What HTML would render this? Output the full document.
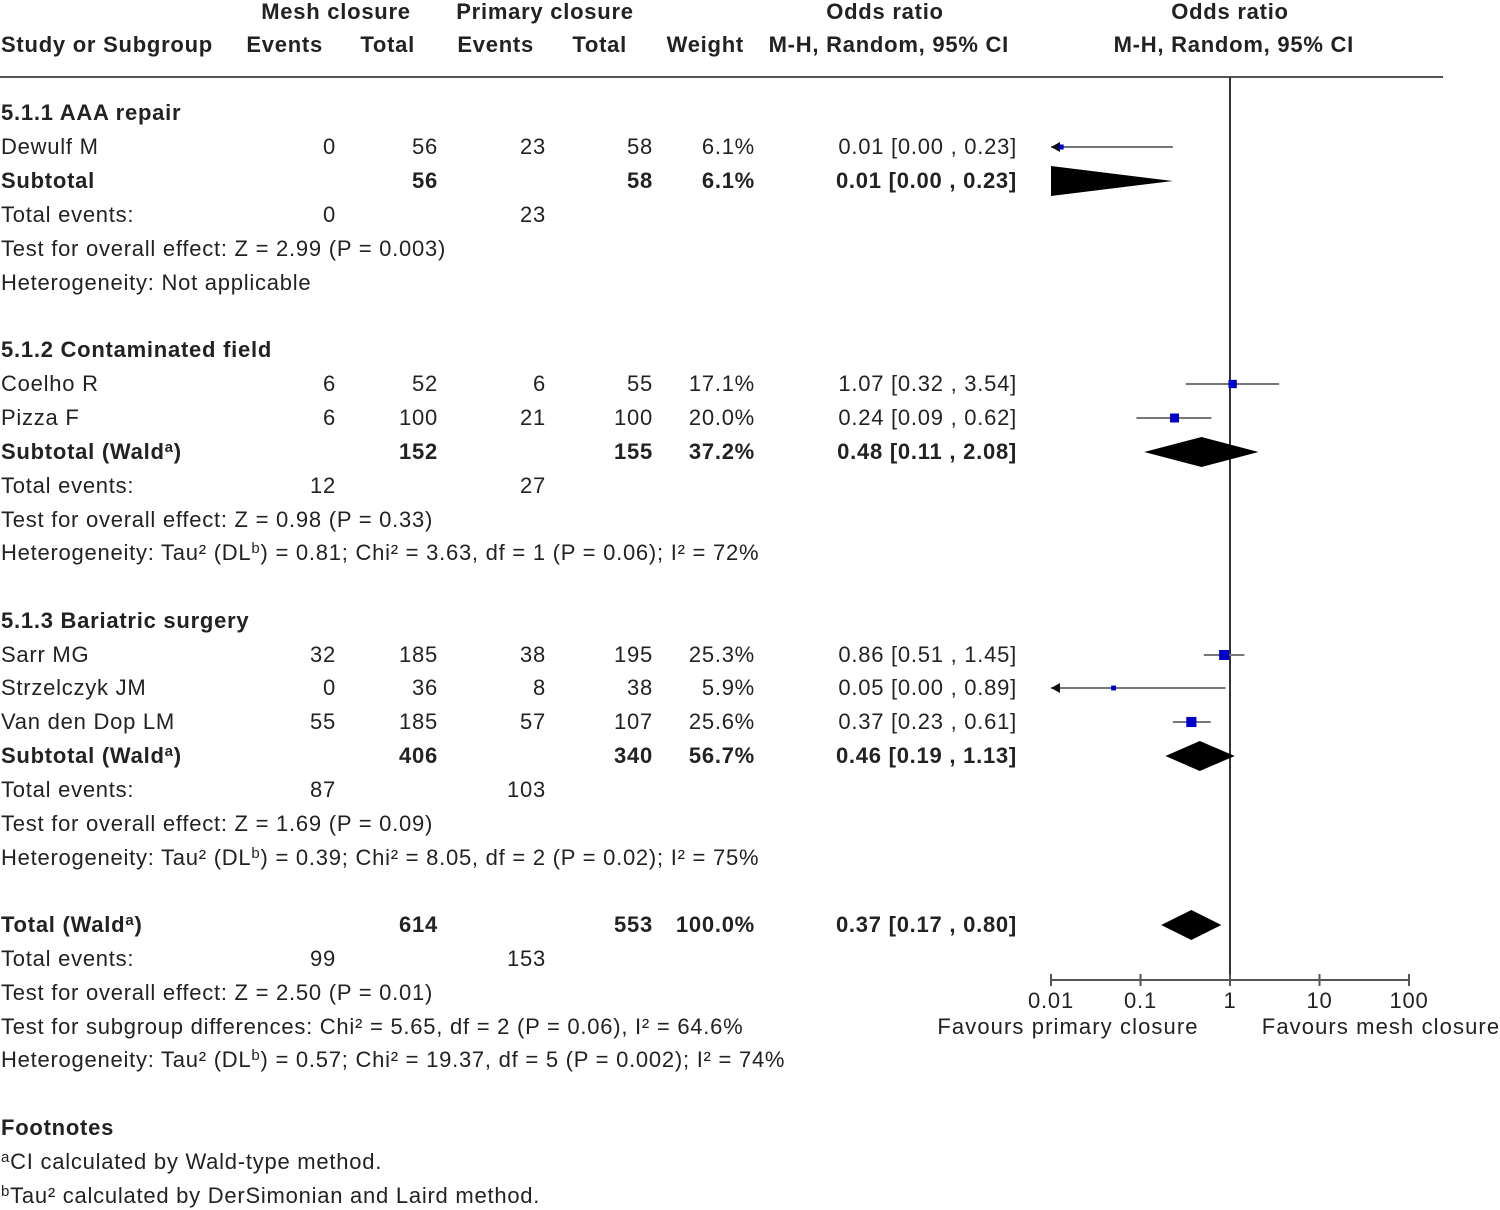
<!DOCTYPE html>
<html><head><meta charset="utf-8"><style>
body{margin:0;width:1500px;height:1210px;background:#fff;position:relative;overflow:hidden;font-family:"Liberation Sans",sans-serif;color:#222}
.t{position:absolute;font-size:22px;letter-spacing:0.75px;line-height:26px;white-space:nowrap}
.t sup{font-size:15px;vertical-align:0;position:relative;top:-7px;line-height:0}
.b{font-weight:bold}
svg{position:absolute;left:0;top:0}
</style></head><body>
<svg id="plot" width="1500" height="1210"></svg>
<script>
// data
const studyNames=["Dewulf M","Coelho R","Pizza F","Sarr MG","Strzelczyk JM","Van den Dop LM"];
const studyOR=[0.013,1.07,0.24,0.86,0.05,0.37];
const studyLo=[0.0,0.32,0.09,0.51,0.0,0.23];
const studyHi=[0.23,3.54,0.62,1.45,0.89,0.61];
const studyWeight=[6.1,17.1,20.0,25.3,5.9,25.6];
const studyRowY=[147,384,418,655,688,722];
const diamondNames=["subtotal-aaa","subtotal-contaminated","subtotal-bariatric","total"];
const diamondOR=[0.01,0.48,0.46,0.37];
const diamondLo=[0.0,0.11,0.19,0.17];
const diamondHi=[0.23,2.08,1.13,0.80];
const diamondRowY=[181,452,756,925];
const tickValues=[0.01,0.1,1,10,100];
const tickLabels=["0.01","0.1","1","10","100"];

const rows=[
[113,"5.1.1 AAA repair","","","","","","",1],
[147,"Dewulf M","0","56","23","58","6.1%","0.01 [0.00 , 0.23]",0],
[181,"Subtotal","","56","","58","6.1%","0.01 [0.00 , 0.23]",1],
[215,"Total events:","0","","23","","","",0],
[249,"Test for overall effect: Z = 2.99 (P = 0.003)","","","","","","",0],
[283,"Heterogeneity: Not applicable","","","","","","",0],
[350,"5.1.2 Contaminated field","","","","","","",1],
[384,"Coelho R","6","52","6","55","17.1%","1.07 [0.32 , 3.54]",0],
[418,"Pizza F","6","100","21","100","20.0%","0.24 [0.09 , 0.62]",0],
[452,"Subtotal (Wald<sup>a</sup>)","","152","","155","37.2%","0.48 [0.11 , 2.08]",1],
[486,"Total events:","12","","27","","","",0],
[520,"Test for overall effect: Z = 0.98 (P = 0.33)","","","","","","",0],
[553,"Heterogeneity: Tau² (DL<sup>b</sup>) = 0.81; Chi² = 3.63, df = 1 (P = 0.06); I² = 72%","","","","","","",0],
[621,"5.1.3 Bariatric surgery","","","","","","",1],
[655,"Sarr MG","32","185","38","195","25.3%","0.86 [0.51 , 1.45]",0],
[688,"Strzelczyk JM","0","36","8","38","5.9%","0.05 [0.00 , 0.89]",0],
[722,"Van den Dop LM","55","185","57","107","25.6%","0.37 [0.23 , 0.61]",0],
[756,"Subtotal (Wald<sup>a</sup>)","","406","","340","56.7%","0.46 [0.19 , 1.13]",1],
[790,"Total events:","87","","103","","","",0],
[824,"Test for overall effect: Z = 1.69 (P = 0.09)","","","","","","",0],
[858,"Heterogeneity: Tau² (DL<sup>b</sup>) = 0.39; Chi² = 8.05, df = 2 (P = 0.02); I² = 75%","","","","","","",0],
[925,"Total (Wald<sup>a</sup>)","","614","","553","100.0%","0.37 [0.17 , 0.80]",1],
[959,"Total events:","99","","153","","","",0],
[993,"Test for overall effect: Z = 2.50 (P = 0.01)","","","","","","",0],
[1027,"Test for subgroup differences: Chi² = 5.65, df = 2 (P = 0.06), I² = 64.6%","","","","","","",0],
[1060,"Heterogeneity: Tau² (DL<sup>b</sup>) = 0.57; Chi² = 19.37, df = 5 (P = 0.002); I² = 74%","","","","","","",0],
[1128,"Footnotes","","","","","","",1],
[1162,"<sup>a</sup>CI calculated by Wald-type method.","","","","","","",0],
[1196,"<sup>b</sup>Tau² calculated by DerSimonian and Laird method.","","","","","","",0]
];
const colRight=[335,437,545,652,754,1016];

function addText(html,x,y,align,bold,name){
  const d=document.createElement('div');
  d.className='t'+(bold?' b':'');
  d.innerHTML=html;
  d.style.top=(y-13)+'px';
  if(align==='r'){d.style.right=(1500-x)+'px';d.style.marginRight='-1px';}
  else if(align==='c'){d.style.left=(x-300)+'px';d.style.width='600px';d.style.textAlign='center';}
  else d.style.left=x+'px';
  
  
  document.body.appendChild(d);
}
// headers
addText("Mesh closure",336,12,'c',1,'header-mesh-closure');
addText("Primary closure",545,12,'c',1,'header-primary-closure');
addText("Odds ratio",885,12,'c',1,'header-odds-ratio');
addText("Odds ratio",1230,12,'c',1,'header-odds-ratio-plot');
addText("Study or Subgroup",1,45,'l',1,'header-study');
addText("Events",322,45,'r',1,'header-events-mesh');
addText("Total",414,45,'r',1,'header-total-mesh');
addText("Events",533,45,'r',1,'header-events-primary');
addText("Total",626,45,'r',1,'header-total-primary');
addText("Weight",743,45,'r',1,'header-weight');
addText("M-H, Random, 95% CI",1008,45,'r',1,'header-ci');
addText("M-H, Random, 95% CI",1353,45,'r',1,'header-ci-plot');
rows.forEach((r,i)=>{
  const y=r[0],bold=r[8];
  addText(r[1],1,y,'l',bold,'row-label-'+i);
  for(let c=0;c<6;c++) if(r[2+c]) addText(r[2+c],colRight[c],y,'r',bold,'row-'+i+'-col-'+c);
});

const NS='http://www.w3.org/2000/svg';
const svg=document.getElementById('plot');
const X0=1051,XMAX=1409;
function xs(v){return 1230+89.5*Math.log10(v);}
function cx(v){return v<=0?X0:Math.max(X0,Math.min(XMAX,xs(v)));}
function el(tag,attrs,name){const e=document.createElementNS(NS,tag);for(const k in attrs)e.setAttribute(k,attrs[k]);
  
  
  svg.appendChild(e);return e;}
el('line',{x1:0,y1:77,x2:1443,y2:77,stroke:'#555','stroke-width':2},'header-rule');
el('line',{x1:1230,y1:77,x2:1230,y2:980,stroke:'#333','stroke-width':2},'null-line');
el('line',{x1:X0,y1:980,x2:XMAX,y2:980,stroke:'#555','stroke-width':2},'x-axis');
tickValues.forEach((v,i)=>{
  el('line',{x1:xs(v),y1:974,x2:xs(v),y2:986,stroke:'#555','stroke-width':2},'x-tick');
  const t=el('text',{x:xs(v),y:1008,'text-anchor':'middle','font-size':22,'letter-spacing':0.8,fill:'#222','font-family':'Liberation Sans'},'x-tick-label');
  t.textContent=tickLabels[i];
});
let f1=el('text',{x:1068,y:1034,'text-anchor':'middle','font-size':22,'letter-spacing':1.1,fill:'#222','font-family':'Liberation Sans'},'favours-primary-label');f1.textContent='Favours primary closure';
let f2=el('text',{x:1381,y:1034,'text-anchor':'middle','font-size':22,'letter-spacing':1.1,fill:'#222','font-family':'Liberation Sans'},'favours-mesh-label');f2.textContent='Favours mesh closure';

studyNames.forEach((n,i)=>{
  const y=studyRowY[i],lo=cx(studyLo[i]),hi=cx(studyHi[i]);
  el('line',{x1:lo,y1:y,x2:hi,y2:y,stroke:'#777','stroke-width':2},'ci-line');
  if(studyLo[i]<0.01) el('polygon',{points:`${X0},${y} ${X0+9},${y-5} ${X0+9},${y+5}`,fill:'#111'},'ci-arrow');
  const s=Math.sqrt(studyWeight[i])*2;
  el('rect',{x:cx(studyOR[i])-s/2,y:y-s/2,width:s,height:s,fill:'#0000cc'},'point-'+n.toLowerCase().replace(/ /g,'-'));
});
diamondNames.forEach((n,i)=>{
  const y=diamondRowY[i],m=xs(diamondOR[i]),hi=cx(diamondHi[i]),h=15;
  let pts;
  if(diamondLo[i]<0.01){
    pts=`${X0},${y-h} ${hi},${y} ${X0},${y+h}`;
  } else pts=`${cx(diamondLo[i])},${y} ${m},${y-h} ${hi},${y} ${m},${y+h}`;
  el('polygon',{points:pts,fill:'#000'},'diamond-'+n);
});
</script>
</body></html>
